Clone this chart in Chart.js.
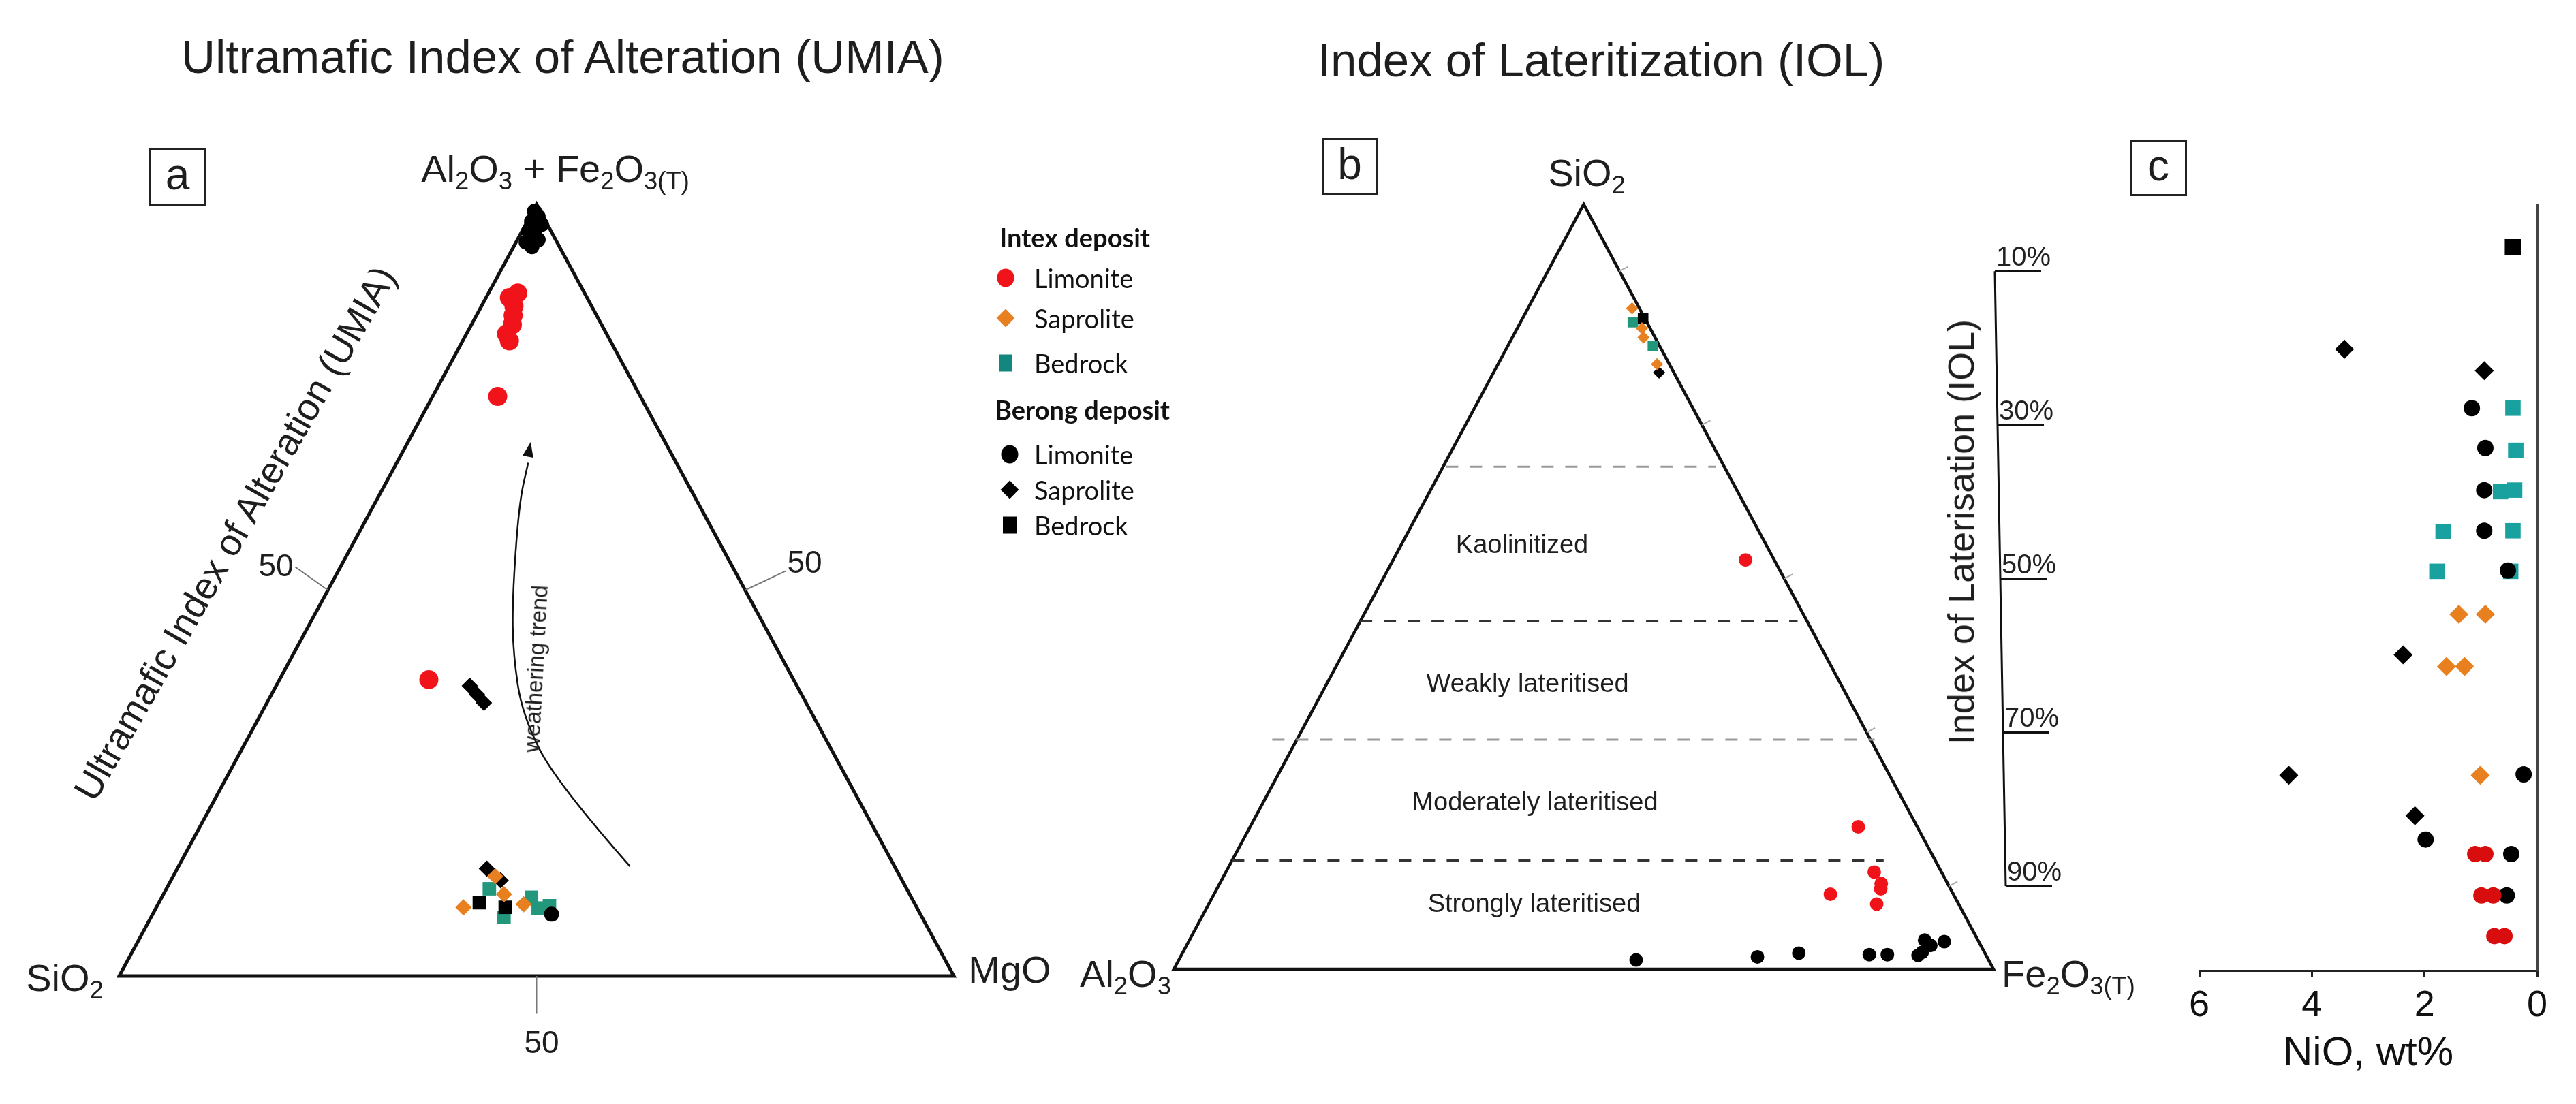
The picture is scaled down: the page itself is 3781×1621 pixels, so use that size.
<!DOCTYPE html>
<html lang="en">
<head>
<meta charset="UTF-8">
<title>UMIA / IOL diagrams - Intex and Berong deposits</title>
<script src="https://cdn.jsdelivr.net/npm/chart.js@4.4.1/dist/chart.umd.min.js"></script>
<style>
  body { margin: 0; background: #fff; }
  #fig { position: relative; width: 3781px; height: 1621px; overflow: hidden;
         font-family: "Liberation Sans", Arial, sans-serif; color: #1e1e1e; }
  #fig canvas { position: absolute; top: 0; }
  .lbl { position: absolute; white-space: nowrap; line-height: 1; transform: translate(-50%, -50%); }
  .lbl sub { font-size: 65%; vertical-align: -0.3em; line-height: 0; }
  .box { position: absolute; border: 3px solid #222; box-sizing: border-box; display: flex;
         align-items: center; justify-content: center; font-size: 64px; line-height: 1; padding-bottom: 8px; }
  .leg { position: absolute; font-family: Lato, "Open Sans", sans-serif; font-size: 38px; color: #111;
         line-height: 1; transform: translate(0, -50%); white-space: nowrap; }
  .mk { position: absolute; transform: translate(-50%, -50%); }
</style>
</head>
<body>
<div id="fig">
  <canvas id="umia" width="1900" height="1621" style="left:0"></canvas>
  <canvas id="iol" width="1400" height="1621" style="left:1650px"></canvas>
  <canvas id="nio" width="681" height="1621" style="left:3100px"></canvas>
</div>

<script>
// ---------- data ----------
const seriesNames = ['Intex Limonite', 'Intex Saprolite', 'Intex Bedrock',
                     'Berong Limonite', 'Berong Saprolite', 'Berong Bedrock'];

// (a) UMIA ternary, [Al2O3+Fe2O3(T) %, MgO %]  (SiO2 = rest)
const umiaIntexLimonite  = [[88.5, 3.5], [87.9, 2.8], [86.8, 3.9], [85.6, 4.4], [84.4, 4.9], [83.2, 4.8], [82.3, 5.6], [75.1, 7.8], [38.4, 17.9]];
const umiaIntexSaprolite = [[8.9, 36.8], [12.9, 38.6], [10.6, 40.8], [9.3, 43.8]];
const umiaIntexBedrock   = [[11.3, 38.7], [7.6, 42.3], [10.2, 44.3], [8.8, 45.8], [9.1, 47.0]];
const umiaBerongLimonite = [[99.1, 0.2], [98.4, 1.0], [97.8, 0.5], [97.4, 1.9], [96.5, 0.8], [96.0, 1.8], [95.4, 2.5], [95.1, 1.2], [94.5, 2.2], [8.0, 47.8]];
const umiaBerongSaprolite = [[37.6, 23.2], [36.5, 24.6], [35.4, 26.0], [13.9, 37.1], [12.4, 39.5]];
const umiaBerongBedrock  = [[9.5, 38.4], [8.9, 41.8]];

// (b) IOL ternary, [SiO2 %, Fe2O3(T) %]  (Al2O3 = rest)
const iolIntexLimonite  = [[53.5, 43.0], [18.6, 74.2], [12.7, 79.1], [11.2, 80.7], [10.5, 81.0], [9.8, 75.2], [8.5, 81.5]];
const iolIntexSaprolite = [[86.4, 12.7], [83.8, 15.2], [82.6, 16.0], [79.1, 19.4]];
const iolIntexBedrock   = [[84.6, 13.7], [81.5, 17.7]];
const iolBerongLimonite = [[1.2, 55.8], [1.6, 70.4], [2.1, 75.2], [1.9, 83.9], [1.9, 86.1], [1.8, 89.9], [3.8, 89.7], [3.1, 90.8], [3.6, 92.2], [2.2, 90.2]];
const iolBerongSaprolite = [[78.0, 20.2]];
const iolBerongBedrock  = [[85.1, 14.7]];
const iolTicks = [10, 30, 50, 70, 90];

// (c) NiO wt% against sample position down the profile (0 = top)
const nioIntexLimonite  = [[1.10, 84.8], [0.92, 84.8], [0.99, 90.2], [0.78, 90.2], [0.76, 95.5], [0.58, 95.5]];
const nioIntexSaprolite = [[1.39, 53.5], [0.92, 53.5], [1.61, 60.3], [1.29, 60.3], [1.01, 74.5]];
const nioIntexBedrock   = [[0.43, 26.6], [0.38, 32.1], [0.65, 37.5], [0.40, 37.3], [1.67, 42.7], [0.43, 42.6], [1.78, 47.9], [0.47, 47.9]];
const nioBerongLimonite = [[1.16, 26.6], [0.92, 31.8], [0.94, 37.3], [0.94, 42.6], [0.52, 47.8], [0.24, 74.4], [1.98, 82.9], [0.46, 84.8], [0.54, 90.2]];
const nioBerongSaprolite = [[3.42, 18.9], [0.94, 21.7], [2.38, 58.8], [4.41, 74.5], [2.17, 79.8]];
const nioBerongBedrock  = [[0.43, 5.6]];
const nioTicks = [0, 2, 4, 6];

// ---------- styles ----------
const RED = '#f0141a', ORANGE = '#e8801f', TEAL = '#22977b', TEAL_C = '#19a1a0', RED_C = '#d80d0d';
const shapes = ['circle', 'rectRot', 'rect', 'circle', 'rectRot', 'rect'];
const drawOrder = [0, 2, 5, 1, 3, 4];   // lower = on top
const FONT = '"Liberation Sans", Arial, sans-serif';

Chart.defaults.font.family = FONT;

function makeSets(groups, conv, colors, radii) {
  return groups.map((g, i) => ({
    label: seriesNames[i],
    data: g.map(conv),
    pointStyle: shapes[i],
    pointRadius: radii[i],
    pointHoverRadius: radii[i],
    backgroundColor: colors[i],
    borderColor: colors[i],
    borderWidth: 0,
    order: drawOrder[i],
    clip: false
  }));
}

const hidden = (min, max, extra) => Object.assign({ type: 'linear', display: false, min, max }, extra || {});

// ---------- (a) UMIA ----------
const ternA = ([a, m]) => ({ x: m + a / 2, y: a });
const trendPath = [[61.2, 14.2], [52.4, 25.0], [48.3, 33.8], [47.2, 41.7], [47.1, 48.8], [47.9, 61.2], [49.0, 66.5]];

const umiaFrame = {
  id: 'umiaFrame',
  beforeDatasetsDraw(chart) {
    const { ctx, scales: { x, y } } = chart;
    const P = (u, v) => [x.getPixelForValue(u), y.getPixelForValue(v)];
    ctx.save();
    ctx.strokeStyle = '#111'; ctx.lineWidth = 5; ctx.lineJoin = 'miter';
    ctx.beginPath();
    ctx.moveTo(...P(0, 0)); ctx.lineTo(...P(100, 0)); ctx.lineTo(...P(50, 100)); ctx.closePath();
    ctx.stroke();
    // 50 % ticks on each side
    ctx.strokeStyle = '#777'; ctx.lineWidth = 2;
    [[[25, 50], [21.1, 53.0]], [[75, 50], [79.9, 52.5]], [[50, 0], [50, -4.9]]].forEach(([p, q]) => {
      ctx.beginPath(); ctx.moveTo(...P(...p)); ctx.lineTo(...P(...q)); ctx.stroke();
    });
    // weathering trend arrow
    const pts = trendPath.map(p => P(...p));
    ctx.strokeStyle = '#111'; ctx.lineWidth = 2.5;
    ctx.beginPath(); ctx.moveTo(...pts[0]);
    for (let i = 1; i < pts.length - 1; i++) {
      ctx.quadraticCurveTo(pts[i][0], pts[i][1], (pts[i][0] + pts[i + 1][0]) / 2, (pts[i][1] + pts[i + 1][1]) / 2);
    }
    ctx.lineTo(...pts[pts.length - 1]);
    ctx.stroke();
    const tip = P(49.3, 69.2), from = pts[pts.length - 2];
    const ang = Math.atan2(tip[1] - from[1], tip[0] - from[0]);
    ctx.fillStyle = '#111';
    ctx.beginPath();
    ctx.moveTo(...tip);
    ctx.lineTo(tip[0] - 22 * Math.cos(ang) + 8 * Math.sin(ang), tip[1] - 22 * Math.sin(ang) - 8 * Math.cos(ang));
    ctx.lineTo(tip[0] - 22 * Math.cos(ang) - 8 * Math.sin(ang), tip[1] - 22 * Math.sin(ang) + 8 * Math.cos(ang));
    ctx.closePath(); ctx.fill();
    ctx.restore();
  }
};

new Chart(document.getElementById('umia'), {
  type: 'scatter',
  data: {
    datasets: makeSets(
      [umiaIntexLimonite, umiaIntexSaprolite, umiaIntexBedrock, umiaBerongLimonite, umiaBerongSaprolite, umiaBerongBedrock],
      ternA, [RED, ORANGE, TEAL, '#000', '#000', '#000'], [14, 12, 14, 11, 12, 14])
  },
  options: {
    responsive: false, animation: false, devicePixelRatio: 1,
    layout: { padding: { left: 175, right: 500, top: 300, bottom: 188 } },
    scales: { x: hidden(0, 100), y: hidden(0, 100) },
    plugins: { legend: { display: false }, tooltip: { enabled: false } }
  },
  plugins: [umiaFrame]
});

// ---------- (b) IOL ----------
const ternB = ([s, f]) => ({ x: f + s / 2, y: s });
const zoneLines = [
  { s: 65.7, x0: 33.2, x1: 66.1, c: '#9a9a9a' },
  { s: 45.5, x0: 22.7, x1: 76.1, c: '#333' },
  { s: 30.0, x0: 12.0, x1: 85.5, c: '#9a9a9a' },
  { s: 14.2, x0: 7.1, x1: 86.6, c: '#333' }
];

const iolFrame = {
  id: 'iolFrame',
  beforeDatasetsDraw(chart) {
    const { ctx, chartArea, scales: { x, y, iol } } = chart;
    const P = (u, v) => [x.getPixelForValue(u), y.getPixelForValue(v)];
    ctx.save();
    ctx.strokeStyle = '#111'; ctx.lineWidth = 4.5; ctx.lineJoin = 'miter';
    ctx.beginPath();
    ctx.moveTo(...P(0, 0)); ctx.lineTo(...P(100, 0)); ctx.lineTo(...P(50, 100)); ctx.closePath();
    ctx.stroke();
    // zone boundaries
    ctx.lineWidth = 3; ctx.setLineDash([18, 17]);
    zoneLines.forEach(l => {
      ctx.strokeStyle = l.c;
      ctx.beginPath(); ctx.moveTo(...P(l.x0, l.s)); ctx.lineTo(...P(l.x1, l.s)); ctx.stroke();
    });
    ctx.setLineDash([]);
    // small ticks on the right edge + IOL ladder
    const apex = P(50, 100), right = P(100, 0);
    const ex = right[0] - apex[0], ey = right[1] - apex[1], len = Math.hypot(ex, ey);
    const nx = ey / len, ny = -ex / len;
    ctx.font = '40px ' + FONT; ctx.fillStyle = '#222'; ctx.textBaseline = 'alphabetic';
    iolTicks.forEach(v => {
      const py = iol.getPixelForValue(v);
      const t = (py - apex[1]) / ey;
      const px = apex[0] + t * ex;
      ctx.strokeStyle = '#aaa'; ctx.lineWidth = 2;
      ctx.beginPath(); ctx.moveTo(px, py); ctx.lineTo(px + 14 * nx, py + 14 * ny); ctx.stroke();
      const lx = chartArea.right + 2 + (v - iolTicks[0]) / (iolTicks[iolTicks.length - 1] - iolTicks[0]) * 16;
      ctx.strokeStyle = '#111'; ctx.lineWidth = 3;
      ctx.beginPath(); ctx.moveTo(lx, py); ctx.lineTo(lx + 68, py); ctx.stroke();
      ctx.fillText(v + '%', lx + 2, py - 8);
    });
    const top = iol.getPixelForValue(iolTicks[0]), bot = iol.getPixelForValue(iolTicks[iolTicks.length - 1]);
    ctx.beginPath(); ctx.moveTo(chartArea.right + 2, top); ctx.lineTo(chartArea.right + 18, bot); ctx.stroke();
    ctx.restore();
  }
};

new Chart(document.getElementById('iol'), {
  type: 'scatter',
  data: {
    datasets: makeSets(
      [iolIntexLimonite, iolIntexSaprolite, iolIntexBedrock, iolBerongLimonite, iolBerongSaprolite, iolBerongBedrock],
      ternB, [RED, ORANGE, TEAL, '#000', '#000', '#000'], [10, 9, 11, 10, 9, 11])
  },
  options: {
    responsive: false, animation: false, devicePixelRatio: 1,
    layout: { padding: { left: 73, right: 124, top: 300, bottom: 198 } },
    scales: {
      x: hidden(0, 100), y: hidden(0, 100),
      iol: hidden(1.3, 100.8, { axis: 'y', reverse: true })
    },
    plugins: { legend: { display: false }, tooltip: { enabled: false } }
  },
  plugins: [iolFrame]
});

// ---------- (c) NiO profile ----------
const toXY = ([n, d]) => ({ x: n, y: d });

new Chart(document.getElementById('nio'), {
  type: 'scatter',
  data: {
    datasets: makeSets(
      [nioIntexLimonite, nioIntexSaprolite, nioIntexBedrock, nioBerongLimonite, nioBerongSaprolite, nioBerongBedrock],
      toXY, [RED_C, ORANGE, TEAL_C, '#000', '#000', '#000'], [12, 14, 16, 12, 14, 17])
  },
  options: {
    responsive: false, animation: false, devicePixelRatio: 1,
    layout: { padding: { left: 128, right: 57, top: 300, bottom: 36 } },
    scales: {
      x: {
        type: 'linear', min: 0, max: 6, reverse: true,
        afterBuildTicks: s => { s.ticks = nioTicks.map(v => ({ value: v })); },
        afterFit: s => { s.height = 160; },
        ticks: { color: '#111', font: { size: 54 }, padding: 10, maxRotation: 0 },
        grid: { drawOnChartArea: false, drawTicks: true, tickLength: 10, color: '#222', lineWidth: 3 },
        border: { display: true, color: '#222', width: 3 },
        title: { display: true, text: 'NiO, wt%', color: '#111', font: { size: 60 }, padding: { top: 0, bottom: 2 } }
      },
      y: {
        type: 'linear', min: 0, max: 100, reverse: true, position: 'right',
        afterFit: s => { s.width = 0; },
        ticks: { display: false },
        grid: { display: false },
        border: { display: true, color: '#444', width: 3 }
      }
    },
    plugins: { legend: { display: false }, tooltip: { enabled: false } }
  }
});

// ---------- text ----------
const fig = document.getElementById('fig');
function label(html, x, y, size, extra) {
  const d = document.createElement('div');
  d.className = 'lbl';
  d.innerHTML = html;
  d.style.left = x + 'px'; d.style.top = y + 'px'; d.style.fontSize = size + 'px';
  if (extra && extra.rot) d.style.transform = 'translate(-50%,-50%) rotate(' + extra.rot + 'deg)';
  fig.appendChild(d);
}
function box(ch, x, y, w, h) {
  const d = document.createElement('div');
  d.className = 'box'; d.textContent = ch;
  Object.assign(d.style, { left: x + 'px', top: y + 'px', width: w + 'px', height: h + 'px' });
  fig.appendChild(d);
}

label('Ultramafic Index of Alteration (UMIA)', 826, 83, 69);
label('Index of Lateritization (IOL)', 2350, 88, 69);
box('a', 219, 217, 83, 85);
box('b', 1940, 202, 82, 85);
box('c', 3126, 205, 84, 83);

label('Al<sub>2</sub>O<sub>3</sub> + Fe<sub>2</sub>O<sub>3(T)</sub>', 815, 248, 56);
label('Ultramafic Index of Alteration (UMIA)', 345, 783, 55, { rot: -60.2 });
label('50', 405, 830, 46);
label('50', 1181, 825, 46);
label('50', 795, 1530, 46);
label('SiO<sub>2</sub>', 95, 1436, 56);
label('MgO', 1482, 1424, 56);
label('weathering trend', 786, 982, 33, { rot: -87 });

label('SiO<sub>2</sub>', 2329, 254, 56);
label('Al<sub>2</sub>O<sub>3</sub>', 1652, 1430, 56);
label('Fe<sub>2</sub>O<sub>3(T)</sub>', 3036, 1430, 56);
label('Kaolinitized', 2234, 799, 38);
label('Weakly lateritised', 2242, 1003, 38);
label('Moderately lateritised', 2253, 1177, 38);
label('Strongly lateritised', 2252, 1326, 38);
label('Index of Laterisation (IOL)', 2878, 781, 54, { rot: -90 });

// legend (a)
function legText(txt, x, y, bold) {
  const d = document.createElement('div');
  d.className = 'leg'; d.textContent = txt;
  d.style.left = x + 'px'; d.style.top = y + 'px';
  if (bold) d.style.fontWeight = '700';
  fig.appendChild(d);
}
function legMark(shape, color, x, y) {
  const d = document.createElement('div');
  d.className = 'mk';
  const st = { left: x + 'px', top: y + 'px', background: color };
  if (shape === 'circle') Object.assign(st, { width: '25px', height: '27px', borderRadius: '50%' });
  if (shape === 'rectRot') Object.assign(st, { width: '19px', height: '19px', transform: 'translate(-50%,-50%) rotate(45deg)' });
  if (shape === 'rect') Object.assign(st, { width: '20px', height: '25px' });
  Object.assign(d.style, st);
  fig.appendChild(d);
}
const legendRows = [
  { head: 'Intex deposit', hx: 1467, hy: 348, mx: 1476, rows: [408, 467, 533], colors: [RED, ORANGE, '#13877f'] },
  { head: 'Berong deposit', hx: 1460, hy: 601, mx: 1482, rows: [667, 719, 771], colors: ['#000', '#000', '#000'] }
];
const legNames = ['Limonite', 'Saprolite', 'Bedrock'];
legendRows.forEach(g => {
  legText(g.head, g.hx, g.hy, true);
  g.rows.forEach((yy, i) => {
    legMark(shapes[i], g.colors[i], g.mx, yy);
    legText(legNames[i], 1518, yy, false);
  });
});
</script>
</body>
</html>
